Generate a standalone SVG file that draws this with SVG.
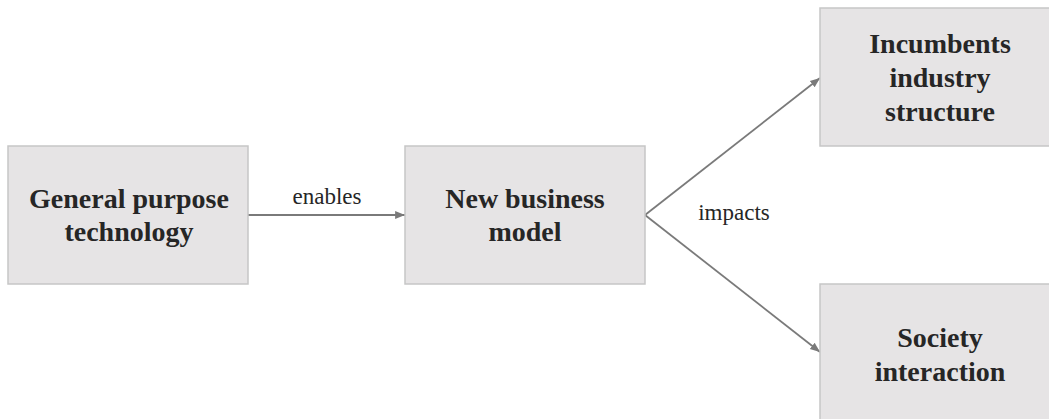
<svg xmlns="http://www.w3.org/2000/svg" width="1049" height="419" viewBox="0 0 1049 419">
<style>
.box{fill:#e6e4e5;stroke:#c6c6c6;stroke-width:1.5}
.t{font-family:"Liberation Serif","Times New Roman",serif;font-weight:bold;font-size:28px;fill:#262626;text-anchor:middle}
.lbl{font-family:"Liberation Serif","Times New Roman",serif;font-size:23px;fill:#262626;text-anchor:middle}
.c{stroke:#7a7a7a;stroke-width:1.8;fill:none;marker-end:url(#ah)}
</style>
<defs>
<marker id="ah" viewBox="0 0 10 10" refX="10" refY="5" markerWidth="5.5" markerHeight="5.5" markerUnits="strokeWidth" orient="auto">
<path d="M0,1 L10,5 L0,9 z" fill="#7a7a7a"/>
</marker>
</defs>
<rect width="1049" height="419" fill="#ffffff"/>
<g id="connectors">
<line class="c" x1="248" y1="215" x2="405" y2="215"/>
<line class="c" x1="645" y1="215" x2="820" y2="78"/>
<line class="c" x1="645" y1="215" x2="820" y2="352"/>
<text class="lbl" x="327" y="204">enables</text>
<text class="lbl" x="734" y="220">impacts</text>
</g>
<g id="gpt">
<rect class="box" x="8" y="146" width="240" height="138"/>
<text class="t" x="129" y="208">General purpose</text>
<text class="t" x="129" y="241">technology</text>
</g>
<g id="nbm">
<rect class="box" x="405" y="146" width="240" height="138"/>
<text class="t" x="525" y="208">New business</text>
<text class="t" x="525" y="241">model</text>
</g>
<g id="incumbents">
<rect class="box" x="820" y="8" width="240" height="138"/>
<text class="t" x="940" y="53">Incumbents</text>
<text class="t" x="940" y="87">industry</text>
<text class="t" x="940" y="121">structure</text>
</g>
<g id="society">
<rect class="box" x="820" y="284" width="240" height="150"/>
<text class="t" x="940" y="347">Society</text>
<text class="t" x="940" y="381">interaction</text>
</g>
</svg>
